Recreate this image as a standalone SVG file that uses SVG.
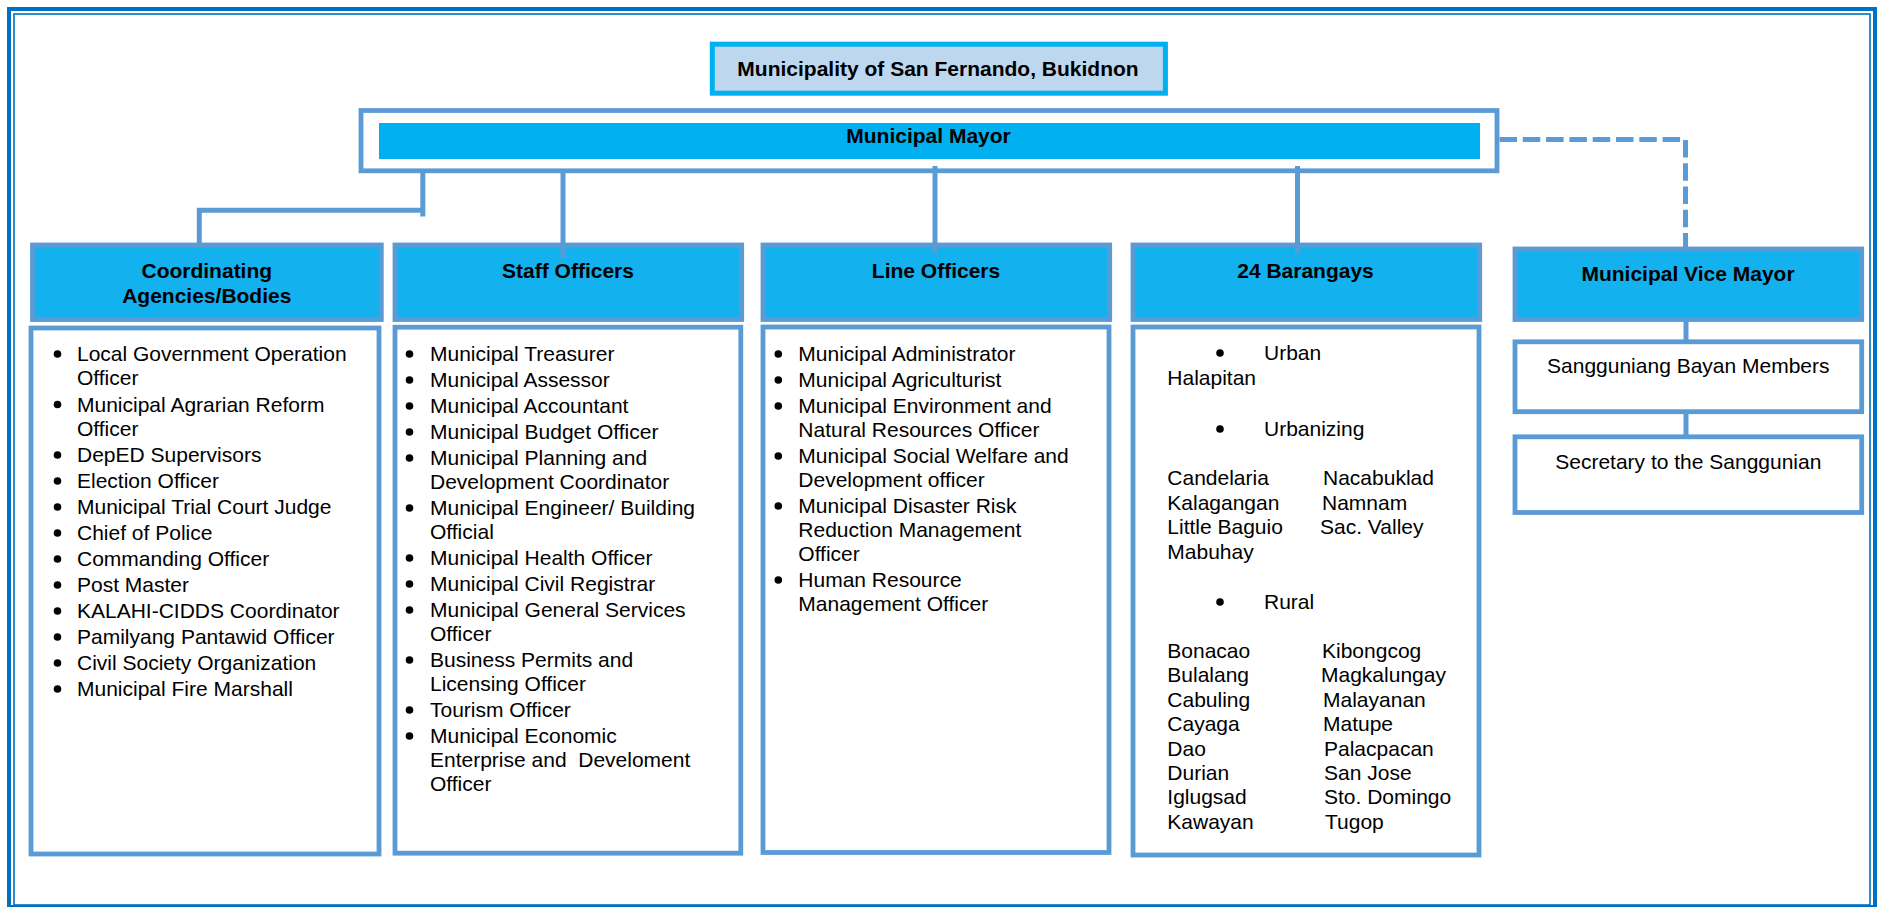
<svg xmlns="http://www.w3.org/2000/svg" width="1882" height="907" viewBox="0 0 1882 907">
<style>
.t{font-family:"Liberation Sans",Arial,sans-serif;font-size:21px;fill:#000}
.b{font-weight:bold}
.m{text-anchor:middle}
.hdr{fill:#13B1EE;stroke:#5B9BD5;stroke-width:4.8}
.box{fill:#FFFFFF;stroke:#5B9BD5;stroke-width:4.8}
.conn{fill:none;stroke:#5B9BD5;stroke-width:5}
.dash{stroke-dasharray:17.5 5.8}
</style>
<defs>
<circle id="bul" r="3.8" fill="#000"/>
</defs>
<rect width="1882" height="907" fill="#FFFFFF"/>
<g id="frame">
<rect x="9" y="9" width="1866" height="898" fill="none" stroke="#0070C0" stroke-width="4"/>
<rect x="14" y="14" width="1856" height="891" fill="none" stroke="#0070C0" stroke-width="1.6"/>
</g>
<g id="title">
<rect x="712.3" y="44.2" width="453.1" height="49" fill="#BDD7EE" stroke="#00B0F0" stroke-width="5"/>
<text class="t b m" x="938" y="76">Municipality of San Fernando, Bukidnon</text>
</g>
<g id="mayor">
<rect x="361" y="110.5" width="1136" height="60.3" class="box"/>
<rect x="379" y="123" width="1101" height="36" fill="#00B0F0"/>
<text class="t b m" x="928.5" y="142.7">Municipal Mayor</text>
</g>
<g id="coordinating">
<rect x="32.5" y="245" width="348.8" height="74.5" class="hdr"/>
<text class="t b m" x="206.8" y="277.7">Coordinating</text>
<text class="t b m" x="206.8" y="302.7">Agencies/Bodies</text>
<rect x="31" y="328" width="348" height="526" class="box"/>
<g>
<use href="#bul" x="57.5" y="354"/><text class="t" x="77" y="361">Local Government Operation</text>
<text class="t" x="77" y="385">Officer</text>
<use href="#bul" x="57.5" y="404.5"/><text class="t" x="77" y="411.5">Municipal Agrarian Reform</text>
<text class="t" x="77" y="435.5">Officer</text>
<use href="#bul" x="57.5" y="455"/><text class="t" x="77" y="462">DepED Supervisors</text>
<use href="#bul" x="57.5" y="481"/><text class="t" x="77" y="488">Election Officer</text>
<use href="#bul" x="57.5" y="507"/><text class="t" x="77" y="514">Municipal Trial Court Judge</text>
<use href="#bul" x="57.5" y="533"/><text class="t" x="77" y="540">Chief of Police</text>
<use href="#bul" x="57.5" y="559"/><text class="t" x="77" y="566">Commanding Officer</text>
<use href="#bul" x="57.5" y="585"/><text class="t" x="77" y="592">Post Master</text>
<use href="#bul" x="57.5" y="611"/><text class="t" x="77" y="618">KALAHI-CIDDS Coordinator</text>
<use href="#bul" x="57.5" y="637"/><text class="t" x="77" y="644">Pamilyang Pantawid Officer</text>
<use href="#bul" x="57.5" y="663"/><text class="t" x="77" y="670">Civil Society Organization</text>
<use href="#bul" x="57.5" y="689"/><text class="t" x="77" y="696">Municipal Fire Marshall</text>
</g>
</g>
<g id="staff">
<rect x="395" y="245" width="346.7" height="74.5" class="hdr"/>
<text class="t b m" x="568" y="278.3">Staff Officers</text>
<rect x="395" y="327.2" width="345.8" height="526" class="box"/>
<g>
<use href="#bul" x="409.5" y="354"/><text class="t" x="430" y="361">Municipal Treasurer</text>
<use href="#bul" x="409.5" y="380"/><text class="t" x="430" y="387">Municipal Assessor</text>
<use href="#bul" x="409.5" y="406"/><text class="t" x="430" y="413">Municipal Accountant</text>
<use href="#bul" x="409.5" y="432"/><text class="t" x="430" y="439">Municipal Budget Officer</text>
<use href="#bul" x="409.5" y="458"/><text class="t" x="430" y="465">Municipal Planning and</text>
<text class="t" x="430" y="489">Development Coordinator</text>
<use href="#bul" x="409.5" y="508"/><text class="t" x="430" y="515">Municipal Engineer/ Building</text>
<text class="t" x="430" y="539">Official</text>
<use href="#bul" x="409.5" y="558"/><text class="t" x="430" y="565">Municipal Health Officer</text>
<use href="#bul" x="409.5" y="584"/><text class="t" x="430" y="591">Municipal Civil Registrar</text>
<use href="#bul" x="409.5" y="610"/><text class="t" x="430" y="617">Municipal General Services</text>
<text class="t" x="430" y="641">Officer</text>
<use href="#bul" x="409.5" y="660"/><text class="t" x="430" y="667">Business Permits and</text>
<text class="t" x="430" y="691">Licensing Officer</text>
<use href="#bul" x="409.5" y="710"/><text class="t" x="430" y="717">Tourism Officer</text>
<use href="#bul" x="409.5" y="736"/><text class="t" x="430" y="743">Municipal Economic</text>
<text class="t" x="430" y="767" xml:space="preserve">Enterprise and  Develoment</text>
<text class="t" x="430" y="791">Officer</text>
</g>
</g>
<g id="line">
<rect x="763" y="245" width="346.7" height="74.5" class="hdr"/>
<text class="t b m" x="936" y="278.3">Line Officers</text>
<rect x="763" y="327" width="346" height="525.5" class="box"/>
<g>
<use href="#bul" x="778.3" y="354"/><text class="t" x="798.3" y="361">Municipal Administrator</text>
<use href="#bul" x="778.3" y="380"/><text class="t" x="798.3" y="387">Municipal Agriculturist</text>
<use href="#bul" x="778.3" y="406"/><text class="t" x="798.3" y="413">Municipal Environment and</text>
<text class="t" x="798.3" y="437">Natural Resources Officer</text>
<use href="#bul" x="778.3" y="456"/><text class="t" x="798.3" y="463">Municipal Social Welfare and</text>
<text class="t" x="798.3" y="487">Development officer</text>
<use href="#bul" x="778.3" y="506"/><text class="t" x="798.3" y="513">Municipal Disaster Risk</text>
<text class="t" x="798.3" y="537">Reduction Management</text>
<text class="t" x="798.3" y="561">Officer</text>
<use href="#bul" x="778.3" y="580"/><text class="t" x="798.3" y="587">Human Resource</text>
<text class="t" x="798.3" y="611">Management Officer</text>
</g>
</g>
<g id="barangays">
<rect x="1133" y="245" width="346.7" height="74.5" class="hdr"/>
<text class="t b m" x="1305.5" y="278.3">24 Barangays</text>
<rect x="1133" y="327" width="346" height="528" class="box"/>
<g>
<use href="#bul" x="1220" y="353"/><text class="t" x="1264" y="360">Urban</text>
<text class="t" x="1167.3" y="385">Halapitan</text>
<use href="#bul" x="1220" y="429"/><text class="t" x="1264" y="436">Urbanizing</text>
<text class="t" x="1167.3" y="485">Candelaria</text><text class="t" x="1323" y="485">Nacabuklad</text>
<text class="t" x="1167.3" y="509.5">Kalagangan</text><text class="t" x="1322" y="509.5">Namnam</text>
<text class="t" x="1167.3" y="534">Little Baguio</text><text class="t" x="1320" y="534">Sac. Valley</text>
<text class="t" x="1167.3" y="558.5">Mabuhay</text>
<use href="#bul" x="1220" y="602"/><text class="t" x="1264" y="609">Rural</text>
<text class="t" x="1167.3" y="658">Bonacao</text><text class="t" x="1322" y="658">Kibongcog</text>
<text class="t" x="1167.3" y="682">Bulalang</text><text class="t" x="1321" y="682">Magkalungay</text>
<text class="t" x="1167.3" y="706.5">Cabuling</text><text class="t" x="1323" y="706.5">Malayanan</text>
<text class="t" x="1167.3" y="731">Cayaga</text><text class="t" x="1323" y="731">Matupe</text>
<text class="t" x="1167.3" y="755.5">Dao</text><text class="t" x="1324" y="755.5">Palacpacan</text>
<text class="t" x="1167.3" y="780">Durian</text><text class="t" x="1324" y="780">San Jose</text>
<text class="t" x="1167.3" y="804">Iglugsad</text><text class="t" x="1324" y="804">Sto. Domingo</text>
<text class="t" x="1167.3" y="828.5">Kawayan</text><text class="t" x="1325" y="828.5">Tugop</text>
</g>
</g>
<g id="vicemayor">
<rect x="1515" y="249" width="346.7" height="70.5" class="hdr"/>
<text class="t b m" x="1688" y="281">Municipal Vice Mayor</text>
</g>
<g id="sanggunian">
<rect x="1515" y="341.8" width="346.7" height="69.9" class="box"/>
<text class="t m" x="1688.3" y="373.3">Sangguniang Bayan Members</text>
</g>
<g id="secretary">
<rect x="1515" y="436.8" width="346.7" height="75.7" class="box"/>
<text class="t m" x="1688.3" y="469">Secretary to the Sanggunian</text>
</g>
<g id="connectors">
<path class="conn" d="M422.8 171V216.5"/>
<path class="conn" d="M199.3 247V210.3H422.8"/>
<path class="conn" d="M563 171V258"/>
<path class="conn" d="M935 166V254"/>
<path class="conn" d="M1297.5 166V254"/>
<path class="conn dash" d="M1499.5 139.5H1685.5V249"/>
<path class="conn" d="M1686 319V342"/>
<path class="conn" d="M1686 411V437"/>
</g>
</svg>
